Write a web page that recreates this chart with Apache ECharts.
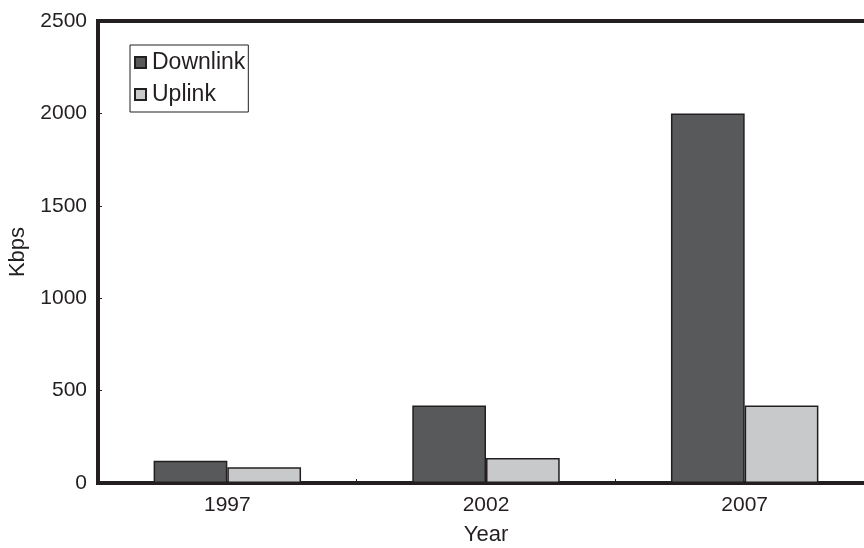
<!DOCTYPE html>
<html>
<head>
<meta charset="utf-8">
<script src="https://cdn.jsdelivr.net/npm/echarts@6/dist/echarts.min.js"></script>
<style>
html,body{margin:0;padding:0;background:#fff;}
#chart{width:864px;height:548px;}
</style>
</head>
<body>
<div id="chart"></div>
<script>
var categories = ['1997', '2002', '2007'];
var downlink = [120, 420, 2000];
var uplink = [85, 135, 420];
var seriesNames = ['Downlink', 'Uplink'];

var FONT = '"Liberation Sans Narrow", "Liberation Sans", Arial, sans-serif';
var INK = '#231f20';

var chart = echarts.init(document.getElementById('chart'), null, {renderer: 'canvas'});
chart.setOption({
  backgroundColor: '#ffffff',
  animation: false,
  textStyle: {fontFamily: FONT, color: INK},
  grid: {
    left: 98, top: 21, width: 776, height: 462,
    containLabel: false,
    outerBoundsMode: 'none',
    show: true, borderColor: INK, borderWidth: 4, backgroundColor: 'transparent'
  },
  legend: {
    orient: 'vertical',
    left: 130, top: 45,
    padding: [6, 3, 6, 4],
    itemGap: 9,
    itemWidth: 11, itemHeight: 11,
    borderColor: INK, borderWidth: 1,
    backgroundColor: '#fff',
    icon: 'rect',
    textStyle: {fontFamily: FONT, fontSize: 23, color: INK, padding: [0, 0, 0, 1]},
    data: seriesNames
  },
  xAxis: {
    type: 'category',
    data: categories,
    name: 'Year',
    nameLocation: 'middle',
    nameGap: 41,
    nameTextStyle: {fontFamily: FONT, fontSize: 22, color: INK},
    axisLine: {show: true, lineStyle: {color: INK, width: 4}},
    axisTick: {show: true, inside: true, length: 4, alignWithLabel: false, lineStyle: {color: INK, width: 1}},
    axisLabel: {fontFamily: FONT, fontSize: 21, color: INK, margin: 12},
    splitLine: {show: false}
  },
  yAxis: {
    type: 'value',
    min: 0, max: 2500, interval: 500,
    name: 'Kbps',
    nameLocation: 'middle',
    nameRotate: 90,
    nameGap: 64,
    nameTextStyle: {fontFamily: FONT, fontSize: 22, color: INK},
    axisLine: {show: true, lineStyle: {color: INK, width: 4}},
    axisTick: {show: true, inside: true, length: 4, lineStyle: {color: INK, width: 1}},
    axisLabel: {fontFamily: FONT, fontSize: 21, color: INK, margin: 11, formatter: function (v) { return String(v); }},
    splitLine: {show: false}
  },
  series: [
    {
      name: seriesNames[0], type: 'bar', data: downlink,
      barGap: '0%', barCategoryGap: '43%',
      itemStyle: {color: '#58595b', borderColor: INK, borderWidth: 1.5}
    },
    {
      name: seriesNames[1], type: 'bar', data: uplink,
      barGap: '0%', barCategoryGap: '43%',
      itemStyle: {color: '#c8c9cb', borderColor: INK, borderWidth: 1.5}
    }
  ]
});
</script>
</body>
</html>
